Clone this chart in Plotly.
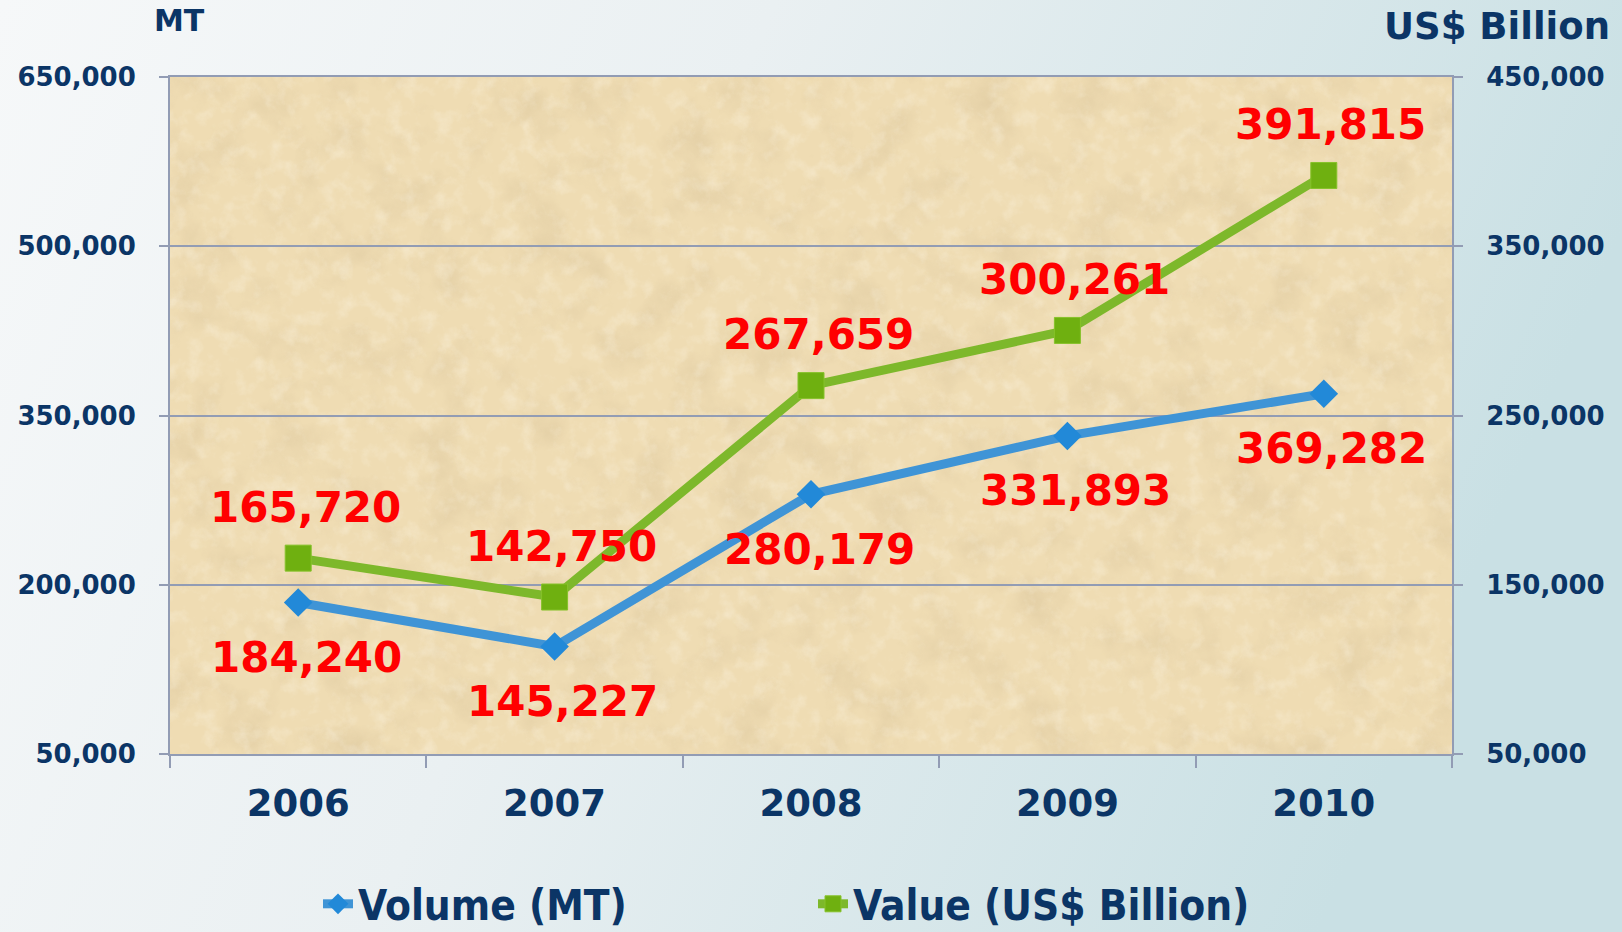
import plotly.graph_objects as go
from urllib.parse import quote

# data
years = ["2006", "2007", "2008", "2009", "2010"]
volume_mt = [184240, 145227, 280179, 331893, 369282]
value_usd = [165720, 142750, 267659, 300261, 391815]

navy = "#0B3566"
grey_line = "#929CB4"
font_main = "DejaVu Sans, Verdana, sans-serif"

# figure geometry (px)
W, H = 1622, 932
L, R, T, B = 170, 170, 77, 178
pw, ph = W - L - R, H - T - B

# background: light grey-to-teal gradient for the page, sandy texture for the plot area
page_svg = (
    "<svg xmlns='http://www.w3.org/2000/svg' width='1622' height='932' viewBox='0 0 1622 932' preserveAspectRatio='none'>"
    "<defs><linearGradient id='g' x1='0' y1='0' x2='1' y2='0.25'>"
    "<stop offset='0' stop-color='#F6F8F9'/>"
    "<stop offset='0.45' stop-color='#EAF0F2'/>"
    "<stop offset='1' stop-color='#C9E0E4'/>"
    "</linearGradient></defs>"
    "<rect width='1622' height='932' fill='url(#g)'/></svg>"
)
sand_svg = (
    "<svg xmlns='http://www.w3.org/2000/svg' width='1282' height='677' viewBox='0 0 1282 677' preserveAspectRatio='none'>"
    "<filter id='n' x='0' y='0' width='100%' height='100%'>"
    "<feTurbulence type='fractalNoise' baseFrequency='0.02' numOctaves='5' seed='7'/>"
    "<feColorMatrix type='matrix' values='0 0 0 0 0.66  0 0 0 0 0.52  0 0 0 0 0.30  2.0 0 0 0 -0.95'/>"
    "</filter>"
    "<filter id='m' x='0' y='0' width='100%' height='100%'>"
    "<feTurbulence type='fractalNoise' baseFrequency='0.06' numOctaves='4' seed='21'/>"
    "<feColorMatrix type='matrix' values='0 0 0 0 1  0 0 0 0 0.97  0 0 0 0 0.88  0 2.0 0 0 -0.95'/>"
    "</filter>"
    "<rect width='1282' height='677' fill='#EFDCB3'/>"
    "<rect width='1282' height='677' filter='url(#n)' opacity='0.45'/>"
    "<rect width='1282' height='677' filter='url(#m)' opacity='0.35'/>"
    "</svg>"
)


def svg_uri(svg):
    return "data:image/svg+xml;charset=utf-8," + quote(svg)


fig = go.Figure()

fig.add_trace(go.Scatter(
    x=years, y=volume_mt, name="Volume (MT)", mode="lines+markers",
    line=dict(color="#3F94D6", width=9),
    marker=dict(symbol="diamond", size=22, color="#2289D8"),
    yaxis="y",
))
fig.add_trace(go.Scatter(
    x=years, y=value_usd, name="Value (US$ Billion)", mode="lines+markers",
    line=dict(color="#7DB82B", width=9),
    marker=dict(symbol="square", size=26, color="#6FB010",
                line=dict(color="#86C22A", width=1)),
    yaxis="y2",
))

# red data labels (x given as category index)
label_font = dict(family=font_main, size=42, color="#FF0000", weight="bold")
annotations = []
for i, v in enumerate(volume_mt):
    annotations.append(dict(x=i, y=v, xref="x", yref="y", text=f"{v:,}",
                            showarrow=False, xshift=8, yshift=-55, font=label_font))
for i, v in enumerate(value_usd):
    annotations.append(dict(x=i, y=v, xref="x", yref="y2", text=f"{v:,}",
                            showarrow=False, xshift=7, yshift=51, font=label_font))

# axis titles
annotations.append(dict(x=(179 - L) / pw, y=1 + (T - 21) / ph, xref="paper", yref="paper",
                        text="MT", showarrow=False, xanchor="center", yanchor="middle",
                        font=dict(family=font_main, size=30, color=navy, weight="bold")))
annotations.append(dict(x=(1497 - L) / pw, y=1 + (T - 26) / ph, xref="paper", yref="paper",
                        text="US$ Billion", showarrow=False, xanchor="center", yanchor="middle",
                        font=dict(family=font_main, size=37, color=navy, weight="bold")))

fig.update_layout(
    width=W, height=H,
    margin=dict(l=L, r=R, t=T, b=B, autoexpand=False),
    paper_bgcolor="#E6EEF0",
    plot_bgcolor="#EFDCB3",
    font=dict(family=font_main, color=navy),
    showlegend=True,
    legend=dict(
        orientation="h", x=(318 - L) / pw, xanchor="left",
        y=1 - (904 - T) / ph, yanchor="middle",
        bgcolor="rgba(0,0,0,0)",
        font=dict(family="DejaVu Sans Condensed, DejaVu Sans, sans-serif", size=42,
                  color=navy, weight="bold"),
        entrywidth=450, entrywidthmode="pixels",
        tracegroupgap=0,
    ),
    annotations=annotations,
    images=[
        dict(source=svg_uri(page_svg), xref="paper", yref="paper",
             x=-L / pw, y=1 + T / ph, sizex=W / pw, sizey=H / ph,
             sizing="stretch", xanchor="left", yanchor="top", layer="below"),
        dict(source=svg_uri(sand_svg), xref="paper", yref="paper",
             x=0, y=1, sizex=1, sizey=1,
             sizing="stretch", xanchor="left", yanchor="top", layer="below"),
    ],
    xaxis=dict(
        type="category", range=[-0.5, 4.5],
        showline=True, linecolor=grey_line, linewidth=2, mirror=True,
        ticks="outside", ticklen=12, tickcolor=grey_line, tickwidth=2,
        tickson="boundaries", showgrid=False,
        tickfont=dict(family=font_main, size=37, color=navy, weight="bold"),
        ticklabelstandoff=16,
    ),
    yaxis=dict(
        range=[50000, 650000], dtick=150000, tick0=50000, tickformat=",",
        showline=True, linecolor=grey_line, linewidth=2,
        showgrid=True, gridcolor=grey_line, gridwidth=2, zeroline=False,
        ticks="outside", ticklen=9, tickcolor=grey_line, tickwidth=2,
        tickfont=dict(family=font_main, size=26, color=navy, weight="bold"),
        ticklabelstandoff=18,
    ),
    yaxis2=dict(
        range=[50000, 450000], dtick=100000, tick0=50000, tickformat=",",
        overlaying="y", side="right",
        showline=True, linecolor=grey_line, linewidth=2,
        showgrid=False, zeroline=False,
        ticks="outside", ticklen=9, tickcolor=grey_line, tickwidth=2,
        tickfont=dict(family=font_main, size=26, color=navy, weight="bold"),
        ticklabelstandoff=18,
    ),
)

fig.write_html("out.html", config={"displayModeBar": False},
               post_script="document.body.style.margin='0';")
